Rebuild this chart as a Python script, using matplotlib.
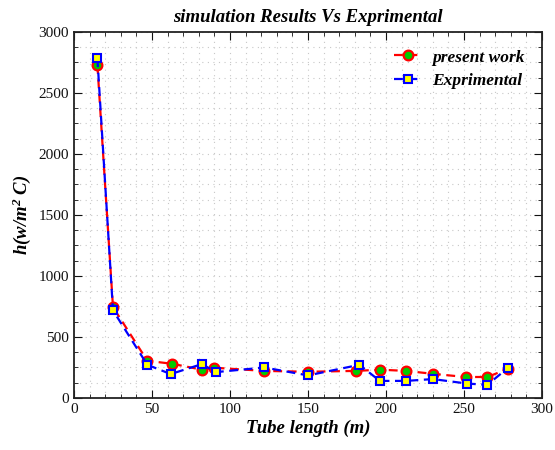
import numpy as np
import matplotlib.pyplot as plt
from matplotlib.ticker import MultipleLocator

plt.rcParams['font.family'] = ['Liberation Serif', 'DejaVu Serif']
plt.rcParams['mathtext.fontset'] = 'custom'
plt.rcParams['mathtext.it'] = 'Liberation Serif:italic:bold'
plt.rcParams['mathtext.rm'] = 'Liberation Serif:italic:bold'

# present work (simulation)
x_sim = [15, 25, 47, 63, 82, 90, 122, 150, 181, 196, 213, 230, 251, 265, 278]
h_sim = [2730, 745, 305, 280, 232, 248, 222, 215, 222, 232, 222, 198, 172, 172, 238]

# experimental
x_exp = [15, 25, 47, 62, 82, 91, 122, 150, 183, 196, 213, 230, 252, 265, 278]
h_exp = [2785, 718, 272, 196, 278, 212, 250, 185, 272, 140, 140, 155, 118, 108, 245]

fig = plt.figure(figsize=(5.55, 4.5), dpi=100)
ax = fig.add_axes([0.1333, 0.1156, 0.8433, 0.8133])

ax.plot(x_sim, h_sim, '--o', color='red', lw=1.6, dashes=(4, 2.5),
        markerfacecolor='#00cc00', markeredgecolor='red', markeredgewidth=1.6,
        markersize=7, label='present work')
ax.plot(x_exp, h_exp, '--s', color='blue', lw=1.6, dashes=(4, 2.5),
        markerfacecolor='yellow', markeredgecolor='blue', markeredgewidth=1.5,
        markersize=6, label='Exprimental')

ax.set_xlim(0, 300)
ax.set_ylim(0, 3000)
ax.xaxis.set_major_locator(MultipleLocator(50))
ax.xaxis.set_minor_locator(MultipleLocator(10))
ax.yaxis.set_major_locator(MultipleLocator(500))
ax.yaxis.set_minor_locator(MultipleLocator(125))
ax.grid(which='both', color='#c8c8c8', linestyle=(0, (1, 4)), linewidth=0.8)
ax.set_axisbelow(True)
ax.tick_params(which='both', direction='in', top=True, right=True,
               labelsize=11, colors='#111111')
ax.tick_params(which='major', length=6)
ax.tick_params(which='minor', length=3)
for s in ax.spines.values():
    s.set_linewidth(1.3)
    s.set_color('#222222')

ax.set_title('simulation Results Vs Exprimental', fontsize=13.5,
             fontweight='bold', fontstyle='italic', pad=7)
ax.set_xlabel('Tube length (m)', fontsize=13.5, fontweight='bold', fontstyle='italic',
              labelpad=3)
ax.set_ylabel(r'h(w/m$^{2}$ C)', fontsize=13.5, fontweight='bold', fontstyle='italic')

leg = ax.legend(loc='upper right', frameon=False, handlelength=1.6,
                labelspacing=0.45, borderaxespad=0.6, handletextpad=0.6,
                prop={'size': 12.5, 'weight': 'bold', 'style': 'italic'})

fig.savefig('out.png', dpi=100)
